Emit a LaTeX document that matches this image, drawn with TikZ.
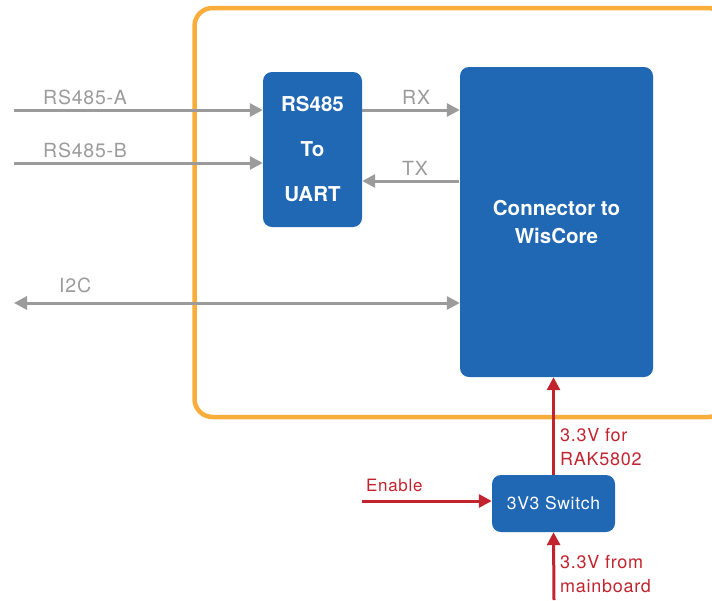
\documentclass[tikz,border=0pt]{standalone}
\usepackage{fontspec}
\setmainfont{TeX Gyre Heros}
\newfontfamily\widefont[LetterSpace=4]{TeX Gyre Heros}
\usetikzlibrary{arrows.meta}

\definecolor{wisblue}{HTML}{2068B3}
\definecolor{frameorange}{HTML}{F9AE3B}
\definecolor{siggray}{HTML}{9B9B9B}
\definecolor{pwrred}{HTML}{C1242F}

\begin{document}
\begin{tikzpicture}[x=1pt, y=-1pt,
    block/.style = {fill=wisblue, rounded corners=9pt, text=white, align=center, inner sep=0pt},
    garrow/.style = {draw=siggray, line width=3pt, -{Triangle[length=13pt,width=13pt]}},
    rarrow/.style = {draw=pwrred, line width=3pt, -{Triangle[length=13pt,width=13pt]}},
    glabel/.style = {text=siggray, anchor=west, inner sep=0pt, font=\widefont\fontsize{19.5}{22}\selectfont},
    rlabel/.style = {text=pwrred, anchor=west, inner sep=0pt, align=left, font=\widefont\fontsize{18}{24}\selectfont}]
        \useasboundingbox (0,0) rectangle (712,600);

        % Board outline (runs off the right edge)
        \draw[frameorange, line width=4.5pt, rounded corners=18pt] (194.5,8) rectangle (726,417);

        % Blocks
        \node[block, minimum width=99pt, minimum height=155pt,
              font=\bfseries\fontsize{20.5}{45}\selectfont] (conv) at (312.5,149.5) {RS485\\To\\UART};
        \node[block, minimum width=193pt, minimum height=310pt,
              font=\bfseries\fontsize{20.5}{28}\selectfont] (wis) at (556.5,222) {Connector to\\WisCore};
        \node[block, minimum width=123pt, minimum height=57pt,
              font=\widefont\fontsize{17.5}{20}\selectfont] (sw) at (553.5,503.5) {3V3 Switch};

        % RS485 inputs
        \coordinate (ina) at (14,110);
        \coordinate (inb) at (14,163);
        \draw[garrow] (ina) -- (ina -| conv.west);
        \draw[garrow] (inb) -- (inb -| conv.west);
        \node[glabel] (la) at (43,97) {RS485-A};
        \node[glabel] (lb) at (43,150) {RS485-B};

        % UART lines
        \coordinate (rx) at (362,110);
        \coordinate (tx) at (459,181);
        \draw[garrow] (rx) -- (rx -| wis.west);
        \draw[garrow] (tx) -- (tx -| conv.east);
        \node[glabel] (lrx) at (402,97) {RX};
        \node[glabel] (ltx) at (402,168) {TX};

        % I2C bus
        \coordinate (i2c) at (14,303);
        \draw[garrow, {Triangle[length=13pt,width=13pt]}-{Triangle[length=13pt,width=13pt]}] (i2c) -- (i2c -| wis.west);
        \node[glabel] (li2c) at (59,285) {I2C};

        % Power path
        \coordinate (en) at (362,501);
        \coordinate (mb) at (554,600);
        \draw[rarrow] (en) -- (en -| sw.west);
        \draw[rarrow] (sw.north) -- (sw.north |- wis.south);
        \draw[rarrow] (mb) -- (sw.south);
        \node[rlabel, font=\widefont\fontsize{17}{20}\selectfont] (len) at (366,485) {Enable};
        \node[rlabel] (lfor) at (560,447) {3.3V for\\RAK5802};
        \node[rlabel] (lfrom) at (560,574) {3.3V from\\mainboard};
\end{tikzpicture}
\end{document}
